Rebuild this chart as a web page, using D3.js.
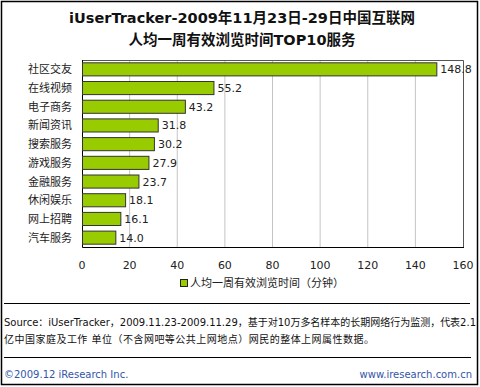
<!DOCTYPE html>
<html>
<head>
<meta charset="utf-8">
<script src="https://cdn.jsdelivr.net/npm/d3@7"></script>
<style>
  body { margin: 0; background: #fff; }
  svg text { font-family: "DejaVu Sans", "Noto Sans CJK SC", sans-serif; }
</style>
</head>
<body>
<svg width="480" height="387"></svg>
<script>
// chart data
const categories = ['社区交友', '在线视频', '电子商务', '新闻资讯', '搜索服务',
                    '游戏服务', '金融服务', '休闲娱乐', '网上招聘', '汽车服务'];
const values = [148.8, 55.2, 43.2, 31.8, 30.2, 27.9, 23.7, 18.1, 16.1, 14.0];
const xTicks = [0, 20, 40, 60, 80, 100, 120, 140, 160];
const titleLines = ['iUserTracker-2009年11月23日-29日中国互联网', '人均一周有效浏览时间TOP10服务'];
const legendLabel = '人均一周有效浏览时间（分钟）';
const sourceLines = ['Source：iUserTracker，2009.11.23-2009.11.29，基于对10万多名样本的长期网络行为监测，代表2.1',
                     '亿中国家庭及工作 单位（不含网吧等公共上网地点）网民的整体上网属性数据。'];

const svg = d3.select('svg');
const plotLeft = 82, plotRight = 463, plotTop = 60, plotBottom = 247;

// outer frame
svg.append('rect')
  .attr('x', 1.5).attr('y', 1.5).attr('width', 476).attr('height', 383)
  .attr('fill', 'none').attr('stroke', '#000').attr('stroke-width', 1.5);

// title
svg.selectAll('text.title')
  .data(titleLines)
  .enter()
  .append('text')
  .attr('class', 'title')
  .attr('x', 242)
  .attr('y', (d, i) => 23 + i * 22)
  .attr('text-anchor', 'middle')
  .attr('font-size', 14.5)
  .attr('font-weight', 'bold')
  .attr('fill', '#111')
  .text(d => d);

const x = d3.scaleLinear().domain([0, 160]).range([plotLeft, plotRight]);
const y = d3.scaleBand().domain(categories).range([plotTop, plotBottom]).paddingInner(0.3).paddingOuter(0.15);

// grid lines
svg.selectAll('line.grid')
  .data(xTicks.slice(1, -1))
  .enter()
  .append('line')
  .attr('x1', d => x(d)).attr('x2', d => x(d))
  .attr('y1', plotTop).attr('y2', plotBottom)
  .attr('stroke', '#c4c4c4');

// plot frame: grey top/right, black left/bottom
svg.append('path')
  .attr('d', `M${plotLeft},${plotTop + 0.5}H${plotRight + 0.5}V${plotBottom}`)
  .attr('fill', 'none').attr('stroke', '#555');
svg.append('path')
  .attr('d', `M${plotLeft + 0.5},${plotTop}V${plotBottom + 0.5}H${plotRight + 1}`)
  .attr('fill', 'none').attr('stroke', '#000');

// bars
svg.selectAll('rect.bar')
  .data(values)
  .enter()
  .append('rect')
  .attr('class', 'bar')
  .attr('x', x(0) + 0.5)
  .attr('y', (d, i) => y(categories[i]))
  .attr('width', d => x(d) - x(0))
  .attr('height', y.bandwidth())
  .attr('fill', '#99cc00')
  .attr('stroke', '#333')
  .attr('stroke-width', 1);

// value labels
svg.selectAll('text.val')
  .data(values)
  .enter()
  .append('text')
  .attr('x', d => x(d) + 4)
  .attr('y', (d, i) => y(categories[i]) + y.bandwidth() / 2 + 4)
  .attr('font-size', 11)
  .attr('fill', '#222')
  .text(d => d.toFixed(1));

// category labels
svg.selectAll('text.cat')
  .data(categories)
  .enter()
  .append('text')
  .attr('x', 72)
  .attr('y', d => y(d) + y.bandwidth() / 2 + 4)
  .attr('text-anchor', 'end')
  .attr('font-size', 11)
  .attr('fill', '#222')
  .text(d => d);

// x axis tick labels
svg.selectAll('text.tick')
  .data(xTicks)
  .enter()
  .append('text')
  .attr('x', d => x(d))
  .attr('y', 269)
  .attr('text-anchor', 'middle')
  .attr('font-size', 11)
  .attr('fill', '#222')
  .text(d => d);

// legend
svg.append('rect')
  .attr('x', 180.5).attr('y', 279.5).attr('width', 7).attr('height', 7)
  .attr('fill', '#99cc00').attr('stroke', '#222');
svg.append('text')
  .attr('x', 190).attr('y', 287)
  .attr('font-size', 11).attr('fill', '#222')
  .text(legendLabel);

// separators
svg.append('line').attr('x1', 4).attr('x2', 470).attr('y1', 303.5).attr('y2', 303.5).attr('stroke', '#000');
svg.append('line').attr('x1', 4).attr('x2', 471).attr('y1', 357.5).attr('y2', 357.5).attr('stroke', '#000');

// source
svg.selectAll('text.src')
  .data(sourceLines)
  .enter()
  .append('text')
  .attr('x', 4)
  .attr('y', (d, i) => 326 + i * 17)
  .attr('font-size', 10)
  .attr('fill', '#111')
  .attr('textLength', (d, i) => i === 0 ? 472 : 370)
  .text(d => d);

// footer
svg.append('text')
  .attr('x', 4).attr('y', 378)
  .attr('font-size', 10).attr('fill', '#3355aa')
  .text('©2009.12 iResearch Inc.');
svg.append('text')
  .attr('x', 472).attr('y', 378)
  .attr('text-anchor', 'end')
  .attr('font-size', 10).attr('fill', '#3355aa')
  .text('www.iresearch.com.cn');
</script>
</body>
</html>
